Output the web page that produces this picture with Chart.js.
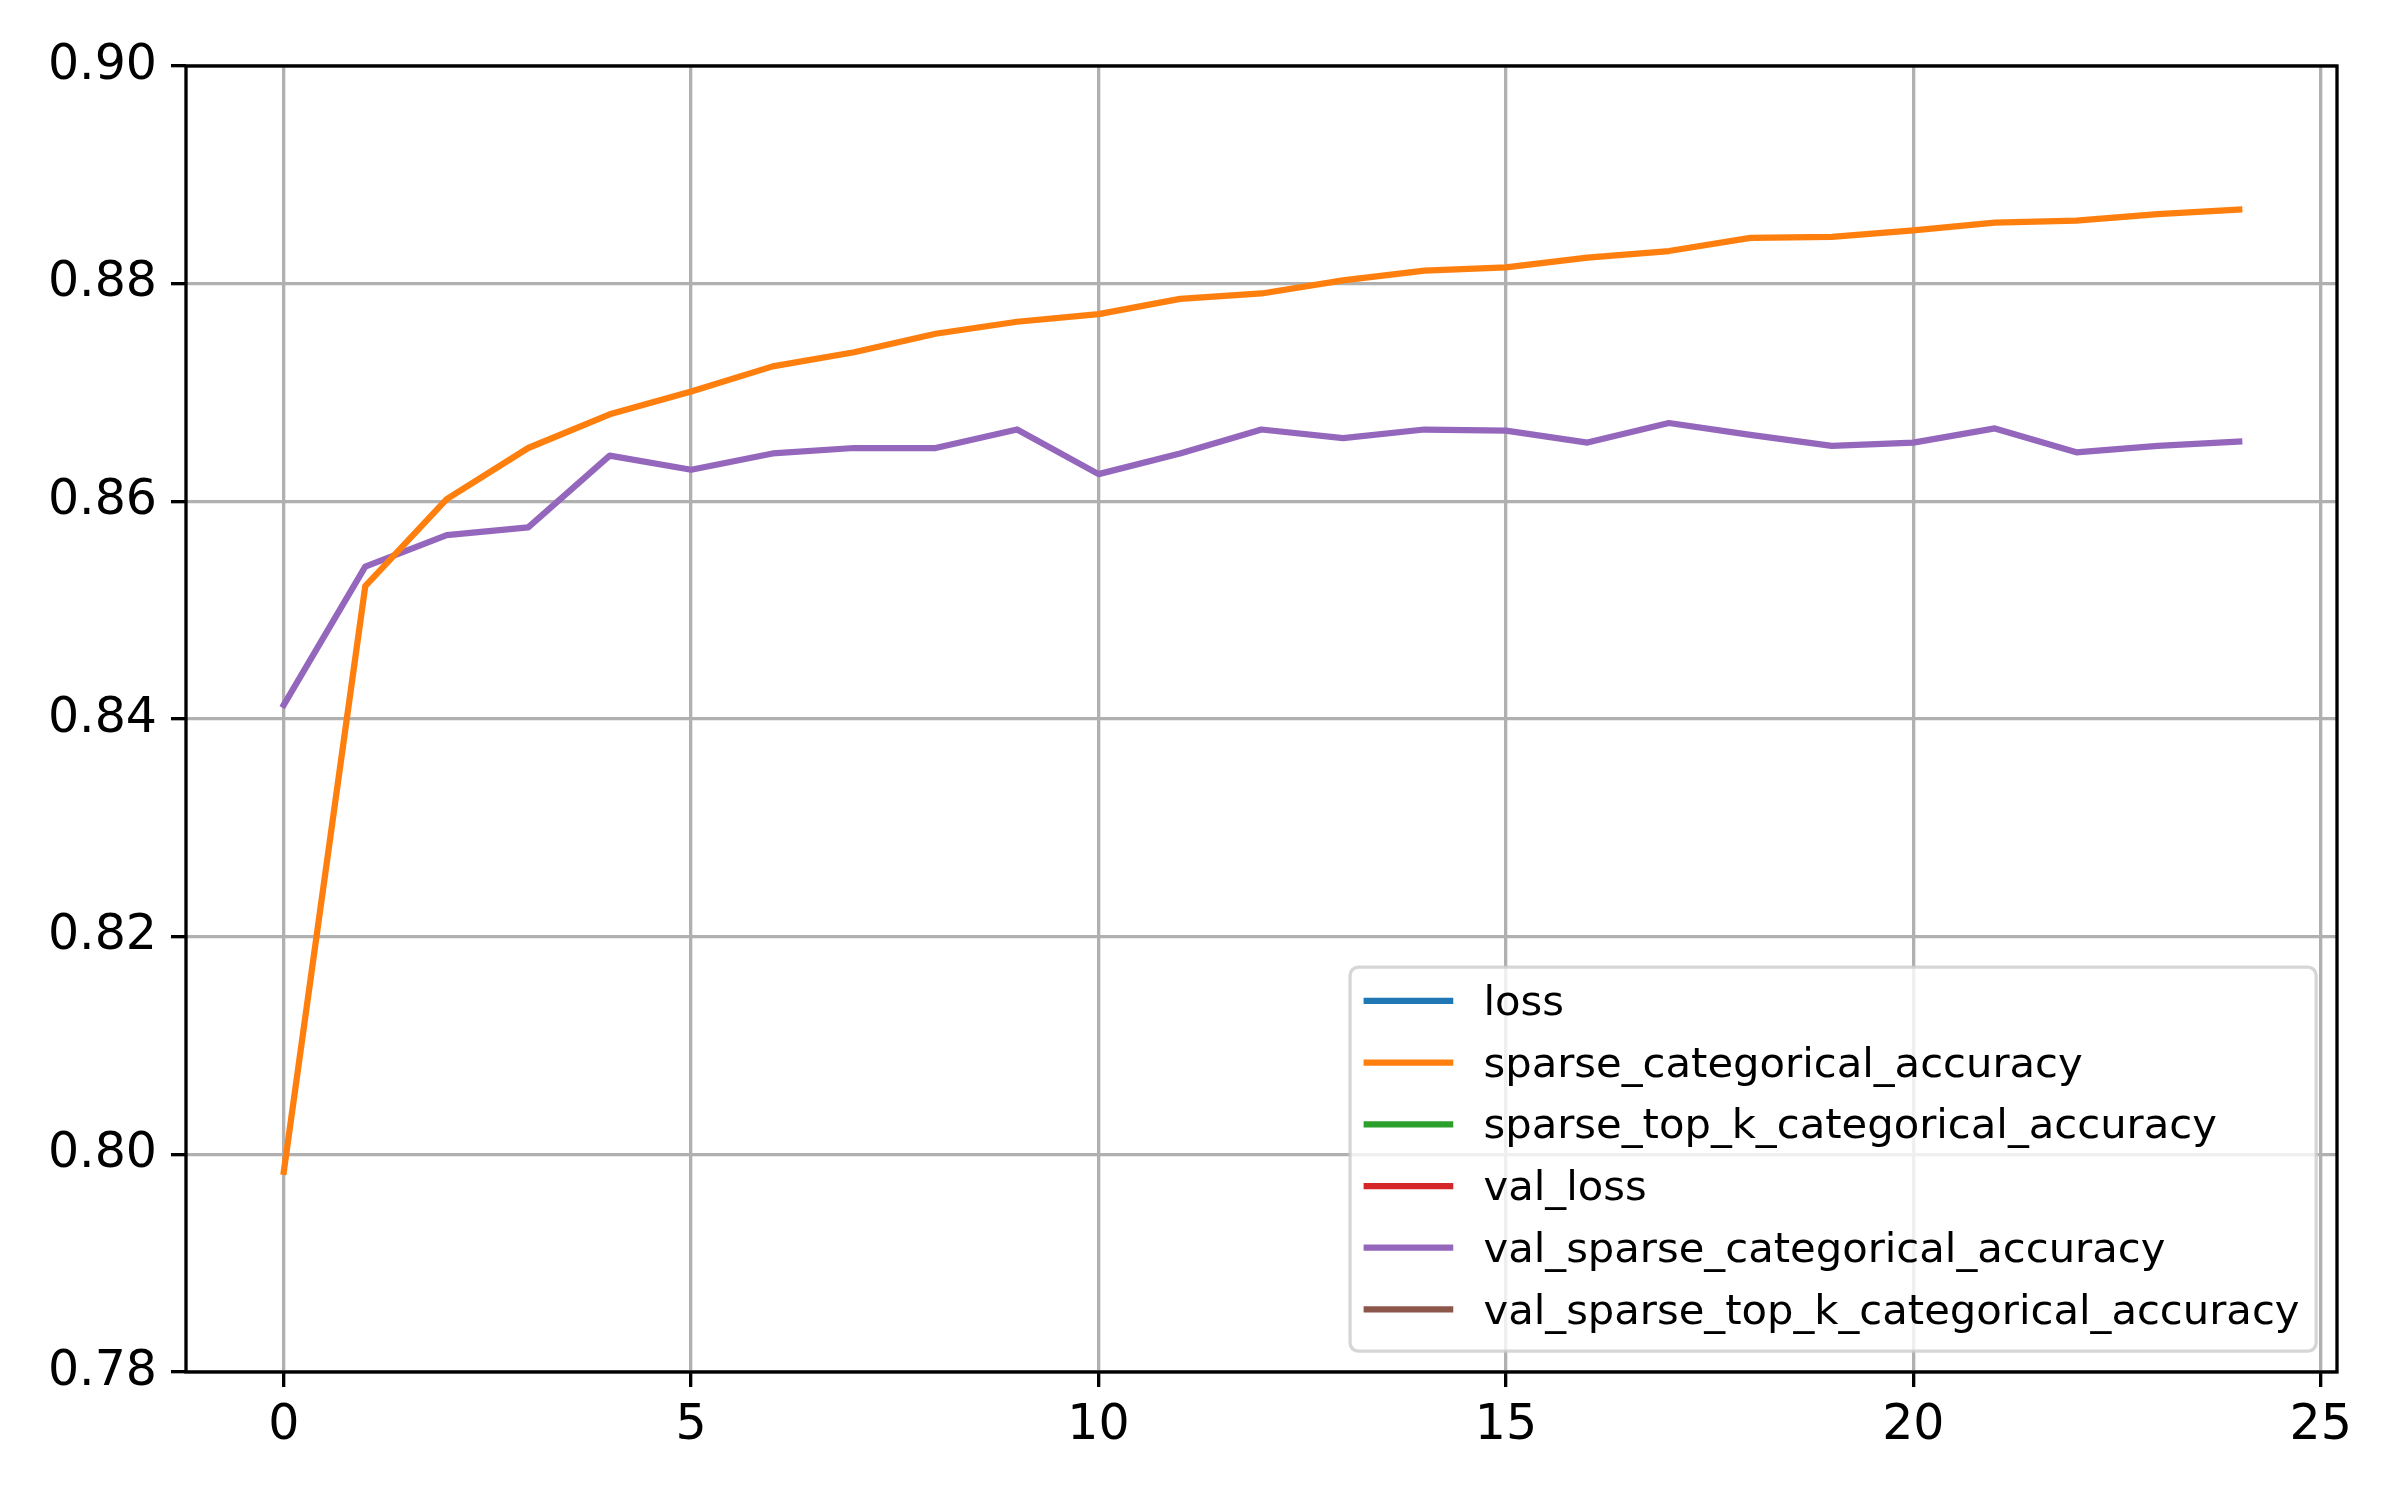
<!DOCTYPE html>
<html>
<head>
<meta charset="utf-8">
<script src="https://cdn.jsdelivr.net/npm/chart.js@4.4.1/dist/chart.umd.min.js"></script>
<style>
    html, body { margin: 0; padding: 0; background: #fff; }
    #wrap { width: 2400px; height: 1500px; }
</style>
</head>
<body>
<div id="wrap"><canvas id="history-chart" width="2400" height="1500"></canvas></div>
<script>
// training history, values
var epochs = [0, 1, 2, 3, 4, 5, 6, 7, 8, 9, 10, 11, 12, 13, 14, 15, 16, 17, 18, 19, 20, 21, 22, 23, 24];

var seriesNames = [
    'loss',
    'sparse_categorical_accuracy',
    'sparse_top_k_categorical_accuracy',
    'val_loss',
    'val_sparse_categorical_accuracy',
    'val_sparse_top_k_categorical_accuracy'
];
var seriesColors = ['#1f77b4', '#ff7f0e', '#2ca02c', '#d62728', '#9467bd', '#8c564b'];

// loss / top_k / val_loss / val_top_k sit outside the visible y range
var lossValues = [];
var accValues = [0.7984, 0.8522, 0.8602, 0.8649, 0.8680, 0.8701, 0.8724, 0.8737, 0.8754, 0.8765,
    0.8772, 0.8786, 0.8791, 0.8803, 0.8812, 0.8815, 0.8824, 0.8830, 0.8842, 0.8843,
    0.8849, 0.8856, 0.8858, 0.8864, 0.8868];
var topKValues = [];
var valLossValues = [];
var valAccValues = [0.8413, 0.8540, 0.8569, 0.8576, 0.8642, 0.8629, 0.8644, 0.8649, 0.8649, 0.8666,
    0.8625, 0.8644, 0.8666, 0.8658, 0.8666, 0.8665, 0.8654, 0.8672, 0.8661, 0.8651,
    0.8654, 0.8667, 0.8645, 0.8651, 0.8655];
var valTopKValues = [];

var xTicks = [0, 5, 10, 15, 20, 25];
var yTicks = [0.78, 0.80, 0.82, 0.84, 0.86, 0.88, 0.90];

var FONT = '"DejaVu Sans", "Liberation Sans", sans-serif';
var LEGEND_SIZE = 41.7;

function toPoints(values) {
    return values.map(function (v, i) { return { x: epochs[i], y: v }; });
}

// box round the axes, like matplotlib spines
var spinesPlugin = {
    id: 'spines',
    afterDatasetsDraw: function (chart) {
        var a = chart.chartArea, ctx = chart.ctx;
        ctx.save();
        ctx.strokeStyle = '#000';
        ctx.lineWidth = 3.33;
        ctx.strokeRect(a.left, a.top, a.right - a.left, a.bottom - a.top);
        ctx.restore();
    }
};

// legend inside the axes, lower right
var innerLegend = {
    id: 'innerLegend',
    afterDraw: function (chart) {
        var a = chart.chartArea, ctx = chart.ctx;
        var F = LEGEND_SIZE;
        var sets = chart.data.datasets;
        ctx.save();
        ctx.font = F + 'px ' + FONT;
        var maxW = 0;
        sets.forEach(function (d) { maxW = Math.max(maxW, ctx.measureText(d.label).width); });
        var pad = 0.4 * F, handle = 2 * F, gap = 0.8 * F, rowH = 1.48 * F;
        var w = pad + handle + gap + maxW + pad;
        var h = 2 * 0.81 * F + (sets.length - 1) * rowH - 0.03 * F;
        h = 9.21 * F;
        var right = a.right - 0.5 * F, bottom = a.bottom - 0.5 * F;
        var left = right - w, top = bottom - h;

        var r = 0.2 * F;
        ctx.beginPath();
        ctx.moveTo(left + r, top);
        ctx.arcTo(right, top, right, bottom, r);
        ctx.arcTo(right, bottom, left, bottom, r);
        ctx.arcTo(left, bottom, left, top, r);
        ctx.arcTo(left, top, right, top, r);
        ctx.closePath();
        ctx.fillStyle = 'rgba(255,255,255,0.8)';
        ctx.fill();
        ctx.strokeStyle = 'rgba(204,204,204,0.8)';
        ctx.lineWidth = 3.33;
        ctx.stroke();

        sets.forEach(function (d, i) {
            var cy = top + 0.81 * F + i * rowH;
            ctx.beginPath();
            ctx.moveTo(left + pad, cy);
            ctx.lineTo(left + pad + handle, cy);
            ctx.strokeStyle = d.borderColor;
            ctx.lineWidth = 6.25;
            ctx.lineCap = 'square';
            ctx.stroke();
            ctx.fillStyle = '#000';
            ctx.textAlign = 'left';
            ctx.textBaseline = 'alphabetic';
            ctx.fillText(d.label, left + pad + handle + gap, cy + 0.34 * F);
        });
        ctx.restore();
    }
};

function init() {
    var allValues = [lossValues, accValues, topKValues, valLossValues, valAccValues, valTopKValues];
    var datasets = seriesNames.map(function (name, i) {
        return {
            label: name,
            data: toPoints(allValues[i]),
            borderColor: seriesColors[i],
            backgroundColor: seriesColors[i],
            borderWidth: 6.25,
            borderCapStyle: 'square',
            borderJoinStyle: 'round',
            pointRadius: 0,
            tension: 0,
            fill: false
        };
    });

    var ctx = document.getElementById('history-chart').getContext('2d');
    new Chart(ctx, {
        type: 'line',
        data: { datasets: datasets },
        plugins: [spinesPlugin, innerLegend],
        options: {
            responsive: false,
            devicePixelRatio: 1,
            animation: false,
            layout: { padding: { top: 66, right: 63, left: 0, bottom: 0 } },
            plugins: {
                legend: { display: false },
                tooltip: { enabled: false },
                title: { display: false }
            },
            scales: {
                x: {
                    type: 'linear',
                    min: -1.2,
                    max: 25.2,
                    afterBuildTicks: function (scale) {
                        scale.ticks = xTicks.map(function (v) { return { value: v }; });
                    },
                    afterFit: function (scale) { scale.height = 128; },
                    border: { display: false },
                    grid: {
                        color: '#b0b0b0',
                        lineWidth: 3.33,
                        drawTicks: true,
                        tickLength: 15,
                        tickColor: '#000',
                        tickWidth: 3.33
                    },
                    ticks: {
                        color: '#000',
                        font: { family: FONT, size: 49 },
                        padding: 10,
                        maxRotation: 0,
                        callback: function (v) { return String(v); }
                    }
                },
                y: {
                    type: 'linear',
                    min: 0.78,
                    max: 0.90,
                    afterBuildTicks: function (scale) {
                        scale.ticks = yTicks.map(function (v) { return { value: v }; });
                    },
                    afterFit: function (scale) { scale.width = 186; },
                    border: { display: false },
                    grid: {
                        color: '#b0b0b0',
                        lineWidth: 3.33,
                        drawTicks: true,
                        tickLength: 15,
                        tickColor: '#000',
                        tickWidth: 3.33
                    },
                    ticks: {
                        color: '#000',
                        font: { family: FONT, size: 49 },
                        padding: 14,
                        callback: function (v) { return Number(v).toFixed(2); }
                    }
                }
            }
        }
    });
}

document.addEventListener('DOMContentLoaded', init);
</script>
</body>
</html>
